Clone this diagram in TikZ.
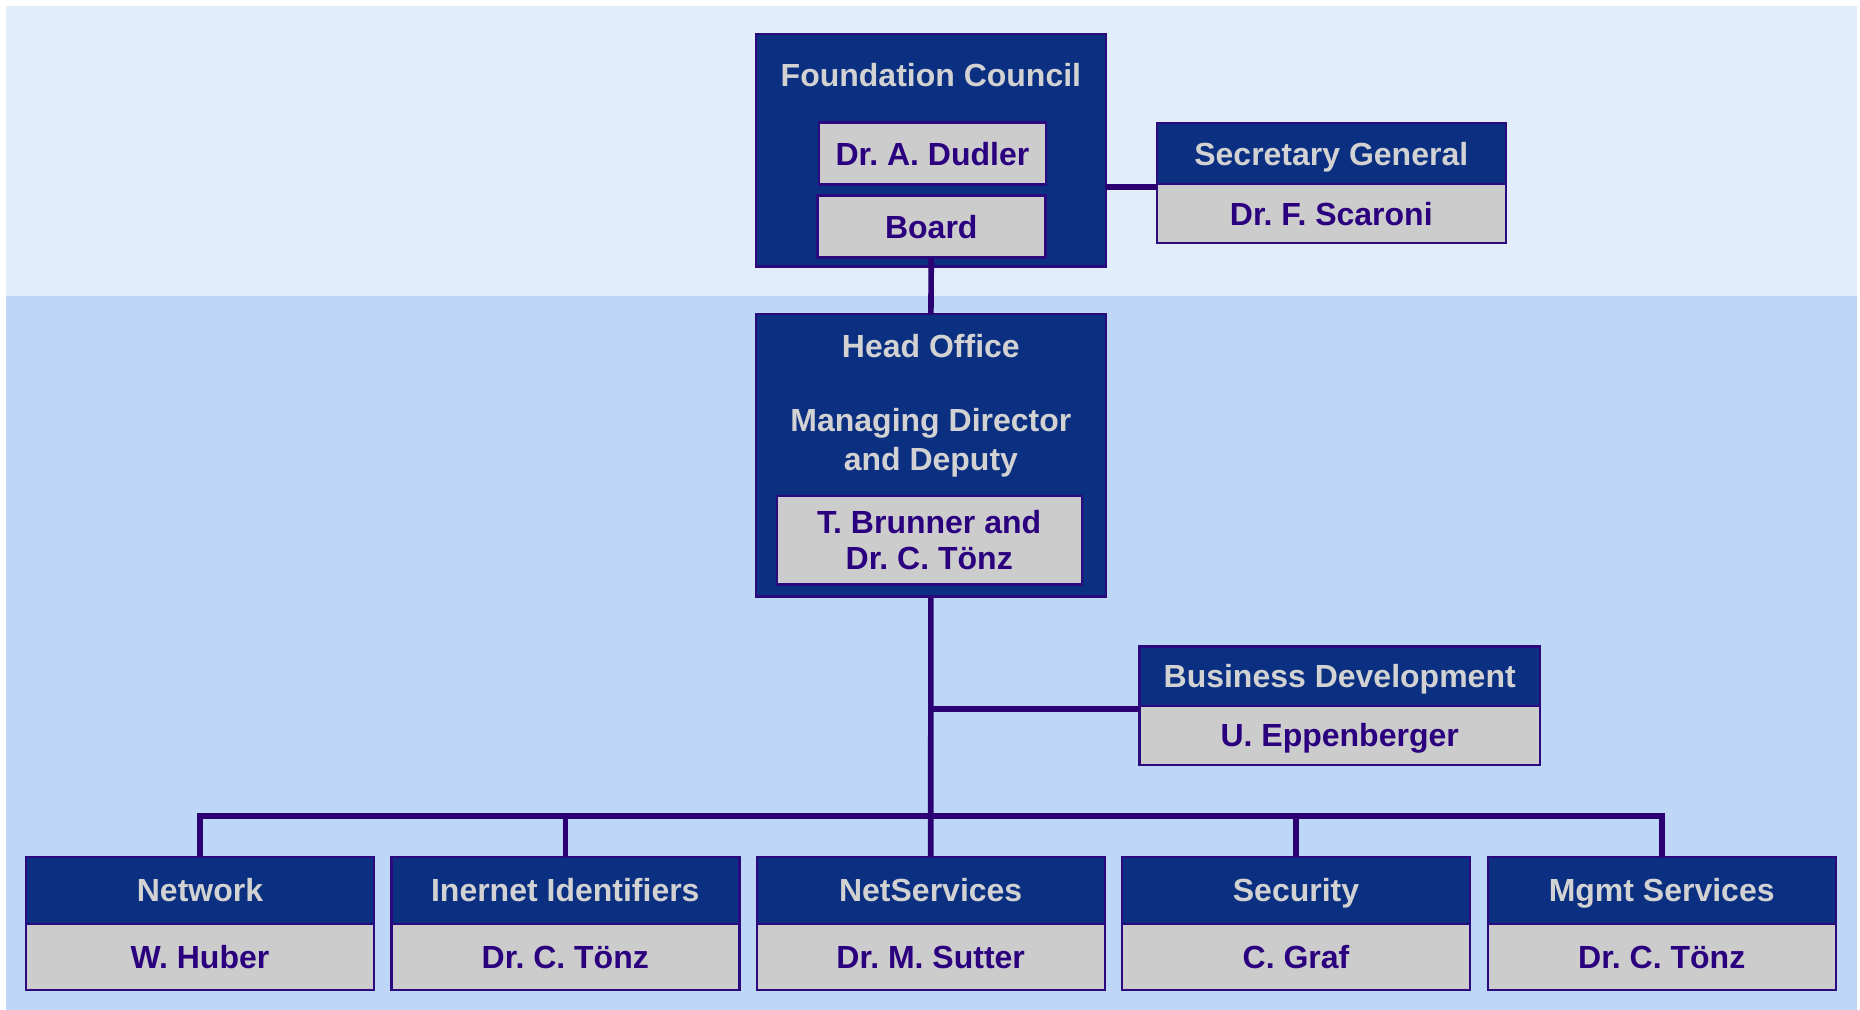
\documentclass[tikz,border=0pt]{standalone}
\usepackage{fontspec}
\setmainfont{Liberation Sans}
\frenchspacing
\definecolor{bgtop}{HTML}{E1EDFB}
\definecolor{bgbot}{HTML}{BED7F7}
\definecolor{navy}{HTML}{0B2F81}
\definecolor{edge}{HTML}{2A0A7E}
\definecolor{wire}{HTML}{2A0073}
\definecolor{namegray}{HTML}{CCCCCC}
\definecolor{headtxt}{HTML}{D2D2D2}
\definecolor{nametxt}{HTML}{2B007F}
\tikzset{
  boxbase/.style={draw=edge, line width=1.2pt, inner sep=0pt, outer sep=0pt,
    font=\fontsize{16pt}{19pt}\selectfont\bfseries, align=center},
  oneline/.style={text height=11.5pt, text depth=-0.5pt},
  headbox/.style={boxbase, oneline, fill=navy, text=headtxt},
  namebox/.style={boxbase, oneline, fill=namegray, text=nametxt},
  headtext/.style={inner sep=0pt, text=headtxt, font=\fontsize{16pt}{19.5pt}\selectfont\bfseries, align=center},
  wirestyle/.style={draw=wire, line width=2.8pt},
}
\begin{document}
\begin{tikzpicture}[x=0.5pt,y=-0.5pt]
\useasboundingbox (0,0) rectangle (1860,1010);
% backgrounds
\fill[bgtop] (6,6) rectangle (1857,296);
\fill[bgbot] (6,296) rectangle (1857,1010);

% Foundation Council
\node[boxbase, fill=navy, minimum width=174.8pt, minimum height=116.2pt] (fc) at (930.9,150.5) {};
\node[headtext] (fct) at (930.9,75) {Foundation Council};
\node[namebox, minimum width=113.5pt, minimum height=31pt] (dudler) at (932.4,153.7) {Dr. A. Dudler};
\node[namebox, minimum width=114pt, minimum height=31pt] (board) at (931.3,226.7) {Board};

% Secretary General
\node[headbox, minimum width=174.6pt, minimum height=30.4pt] (sgh) at (1331.3,153.7) {Secretary General};
\node[namebox, minimum width=174.6pt, minimum height=29.6pt] (sgn) at (1331.3,213.7) {Dr. F. Scaroni};

% Head Office
\node[boxbase, fill=navy, minimum width=174.8pt, minimum height=141.3pt] (ho) at (930.9,455.3) {};
\node[headtext] (hot) at (930.9,346.5) {Head Office};
\node[headtext] (hom) at (930.9,442.5) {Managing Director\\and Deputy};
\node[boxbase, fill=namegray, text=nametxt, minimum width=152.5pt, minimum height=44.2pt, font=\fontsize{16pt}{18pt}\selectfont\bfseries] (hon) at (929.2,540.5) {T. Brunner and\\Dr. C. Tönz};

% Business Development
\node[headbox, minimum width=200.3pt, minimum height=29.7pt] (bdh) at (1339.7,676.3) {Business Development};
\node[namebox, minimum width=200.3pt, minimum height=29.5pt] (bdn) at (1339.7,735.5) {U. Eppenberger};

% Bottom row
\node[headbox, minimum width=174pt, minimum height=33.6pt] (neth) at (200,890.3) {Network};
\node[namebox, minimum width=174pt, minimum height=33pt] (netn) at (200,957) {W. Huber};
\node[headbox, minimum width=174pt, minimum height=33.6pt] (idh) at (565.3,890.3) {Inernet Identifiers};
\node[namebox, minimum width=174pt, minimum height=33pt] (idn) at (565.3,957) {Dr. C. Tönz};
\node[headbox, minimum width=174pt, minimum height=33.6pt] (nsh) at (930.7,890.3) {NetServices};
\node[namebox, minimum width=174pt, minimum height=33pt] (nsn) at (930.7,957) {Dr. M. Sutter};
\node[headbox, minimum width=174pt, minimum height=33.6pt] (sech) at (1296,890.3) {Security};
\node[namebox, minimum width=174pt, minimum height=33pt] (secn) at (1296,957) {C. Graf};
\node[headbox, minimum width=174pt, minimum height=33.6pt] (mgh) at (1661.7,890.3) {Mgmt Services};
\node[namebox, minimum width=174pt, minimum height=33pt] (mgn) at (1661.7,957) {Dr. C. Tönz};

% connectors
\coordinate (bus) at (931,815.7);
\coordinate (sgj) at ([yshift=-1.4pt]sgn.north west);
\coordinate (bdj) at ([yshift=-1.6pt]bdn.north west);
\draw[wirestyle] (board.south) -- (ho.north);
\draw[wirestyle] (sgj) -- (sgj -| fc.east);
\draw[wirestyle] (ho.south) -- (nsh.north);
\draw[wirestyle] (bdj) -- (bdj -| ho.south);
\draw[wirestyle] (neth.north) |- (bus) -| (mgh.north);
\draw[wirestyle] (idh.north) -- (idh.north |- bus);
\draw[wirestyle] (sech.north) -- (sech.north |- bus);
\end{tikzpicture}
\end{document}
